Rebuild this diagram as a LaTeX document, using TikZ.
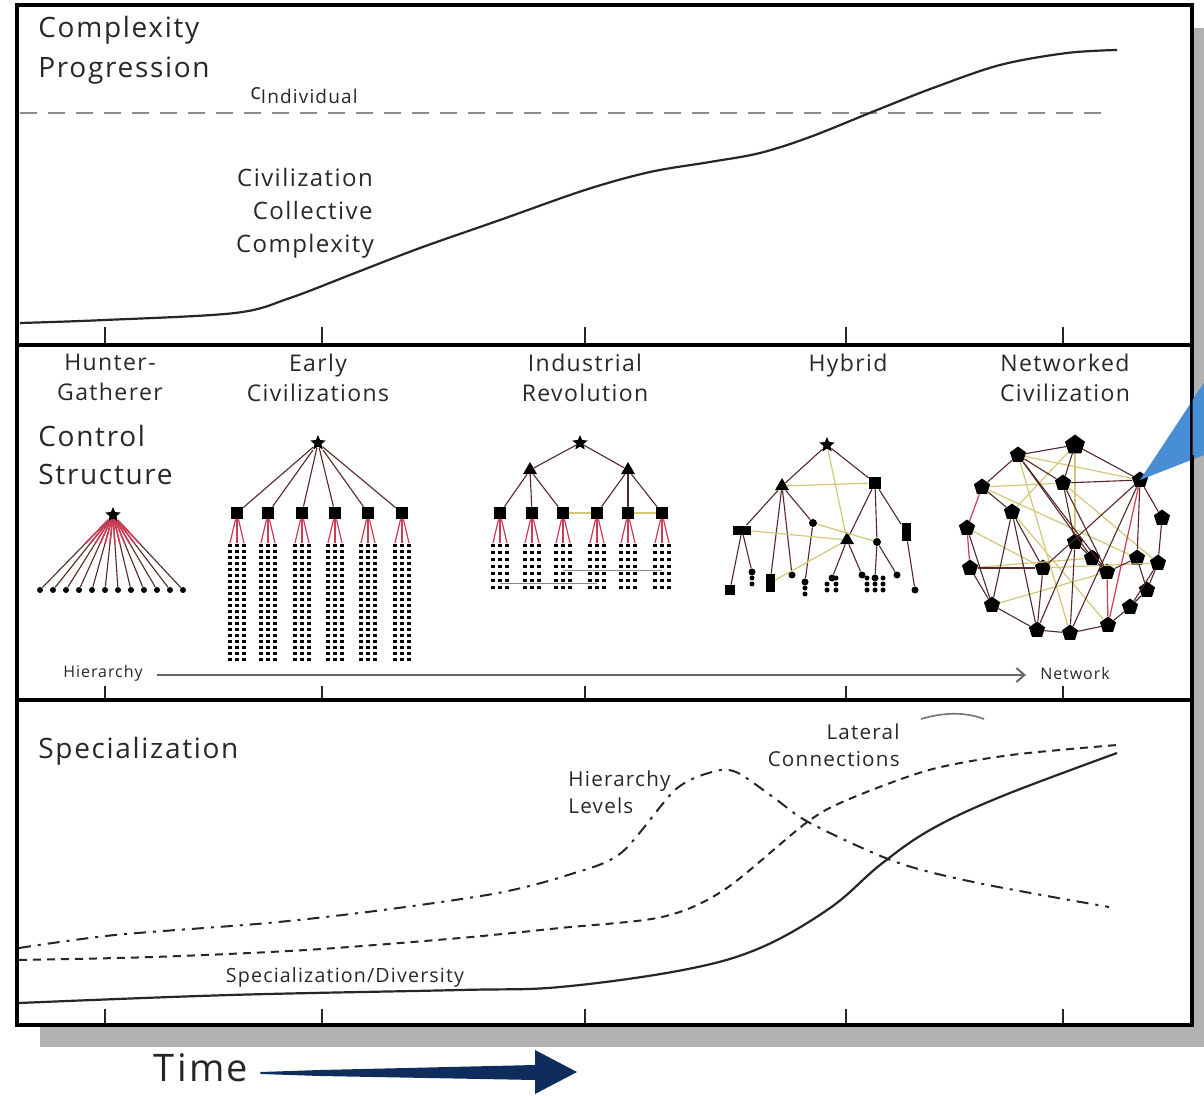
\documentclass[tikz,border=0pt]{standalone}
\usepackage{fontspec}
\setmainfont{Open Sans}[LetterSpace=6]
\usetikzlibrary{shapes.geometric,arrows.meta,calc}
\definecolor{inkgray}{RGB}{40,40,40}
\definecolor{linkdark}{RGB}{85,40,40}
\definecolor{linkred}{RGB}{205,60,85}
\definecolor{linkyel}{RGB}{212,200,120}
\definecolor{calloutblue}{RGB}{72,142,212}
\definecolor{timenavy}{RGB}{14,44,92}
\tikzset{
  panel/.style={draw=black, line width=2pt},
  tickmark/.style={line width=1.1pt, draw=black!85},
  ttl/.style={font=\fontsize{14}{20}\selectfont, text=inkgray, inner sep=0pt, align=left},
  lbl/.style={font=\fontsize{11.5}{15}\selectfont, text=inkgray, inner sep=0pt, align=center},
  small/.style={font=\fontsize{10.3}{13.5}\selectfont, text=inkgray, inner sep=0pt},
  tiny/.style={font=\fontsize{8}{8.5}\selectfont, text=inkgray, inner sep=1pt},
  curve/.style={line width=1.1pt, draw=black!85},
  boss/.style={star, star points=5, star point ratio=2.2, fill=black, inner sep=0pt, minimum size=8pt},
  mid/.style={regular polygon, regular polygon sides=3, fill=black, inner sep=0pt, minimum size=8pt},
  box/.style={rectangle, fill=black, inner sep=0pt, minimum size=6pt},
  leaf/.style={circle, fill=black, inner sep=0pt, minimum size=2.6pt},
  blob/.style={regular polygon, regular polygon sides=5, fill=black, inner sep=0pt, minimum size=8.5pt},
  dk/.style={draw=linkdark, line width=0.55pt},
  rd/.style={draw=linkred, line width=0.6pt},
  yl/.style={draw=linkyel, line width=0.6pt},
}

\begin{document}
\begin{tikzpicture}[x=0.5pt, y=-0.5pt]
  \useasboundingbox (0,0) rectangle (1204,1096);
  % frame with shadow
  \fill[black!30] (40,28) rectangle (1204,1047);
  \fill[white] (17,5) rectangle (1192,1025);
  \foreach \x in {105,322,585,846,1063} {
    \draw[tickmark] (\x,345) -- ++(0,-18);
    \draw[tickmark] (\x,700) -- ++(0,-14);
    \draw[tickmark] (\x,1025) -- ++(0,-16);
  }

  % top panel
  \node[ttl, anchor=north west] (cprog) at (38,16) {Complexity\\Progression};
  \node[anchor=west, inner sep=0pt, text=inkgray] (cind) at (250,96)
    {\fontsize{11}{12}\selectfont c\raisebox{-2pt}{\fontsize{9.5}{10}\selectfont Individual}};
  \draw[black!45, line width=1.3pt, dash pattern=on 8.5pt off 5.5pt] (20,113) -- (1105,113);
  \node[lbl, font=\fontsize{12}{16.5}\selectfont] (civ) at (305,213) {Civilization\\\ \ Collective\\Complexity};
  \draw[curve] plot[smooth, tension=0.55] coordinates {(20,323) (105,320) (235,313)
    (290,298) (355,273) (420,248) (500,220) (585,190) (650,172) (710,162) (760,153) (810,137)
    (877,110) (933,88) (1000,65) (1067,53) (1117,50)};

  % middle panel: labels
  \node[lbl, anchor=north] (hgl) at (110,354) {Hunter-\\Gatherer};
  \node[lbl, anchor=north] (ecl) at (318,354) {Early\\Civilizations};
  \node[lbl, anchor=north] (irl) at (585,354) {Industrial\\Revolution};
  \node[lbl, anchor=north] (hyl) at (848,354) {Hybrid};
  \node[lbl, anchor=north] (nwl) at (1065,354) {Networked\\Civilization};
  \node[ttl, font=\fontsize{14}{19}\selectfont, anchor=north west] (ctrl) at (38,425) {Control\\Structure};

  % hunter-gatherer
  \node[boss] (hg) at (113,515) {};
  \foreach \i in {1,...,12} {
    \node[leaf, minimum size=3pt] (hg\i) at ({27+13*\i},590) {};
    \draw[dk] (hg) -- (hg\i);
    \draw[rd, line width=0.8pt] (hg) -- ($(hg)!0.38!(hg\i)$);
  }

  % early civilizations
  \node[boss] (ec) at (318,443) {};
  \foreach \c [count=\i] in {237,268,302,335,368,402} {
    \node[box] (ec\i) at (\c,513) {};
    \draw[dk] (ec) -- (ec\i);
    \foreach \d [count=\k] in {-7,0,7} {
      \coordinate (ec\i t\k) at (\c+\d,543);
      \draw[rd] (ec\i) -- (ec\i t\k);
      \foreach \r in {0,...,19}
        \fill (\c+\d-2.3,545+6*\r-1.5) rectangle ++(4.6,3);
    }
  }

  % industrial revolution
  \node[boss] (ir) at (580,443) {};
  \node[mid] (irL) at (530,470) {};
  \node[mid] (irR) at (628,470) {};
  \draw[dk] (ir) -- (irL);
  \draw[dk] (ir) -- (irR);
  \foreach \c [count=\i] in {500,532,563,597,628,662} {
    \node[box] (ir\i) at (\c,513) {};
    \foreach \d [count=\k] in {-7,0,7} {
      \coordinate (ir\i t\k) at (\c+\d,543);
      \draw[rd] (ir\i) -- (ir\i t\k);
      \foreach \r in {0,...,6}
        \fill (\c+\d-2.3,545+7*\r-1.5) rectangle ++(4.6,3);
    }
  }
  \foreach \i in {1,2,3} \draw[dk] (irL) -- (ir\i);
  \foreach \i in {4,5,6} \draw[dk] (irR) -- (ir\i);
  \draw[yl] (ir3) -- (ir4);
  \draw[yl] (ir5) -- (ir6);
  \draw[black!45, line width=0.5pt] (563,570) -- (662,570) (500,583) -- (597,583);

  % hybrid
  \node[boss] (hy) at (827,445) {};
  \node[mid] (hyA) at (782,486) {};
  \node[box] (hyB) at (875,483) {};
  \node[box, minimum width=9pt, minimum height=4.5pt] (hyC) at (742,530) {};
  \node[leaf, minimum size=4pt] (hyD) at (813,523) {};
  \node[mid] (hyE) at (847,540) {};
  \node[leaf, minimum size=4pt] (hyF) at (877,542) {};
  \node[box, minimum width=4.5pt, minimum height=9pt] (hyG) at (906,532) {};
  \node[box, minimum size=5pt] (hyC1) at (730,590) {};
  \node[leaf, minimum size=3.5pt] (hyC2) at (752,572) {};
  \node[box, minimum width=4.5pt, minimum height=9pt] (hyA1) at (770,583) {};
  \node[leaf, minimum size=3.5pt] (hyA2) at (792,575) {};
  \node[leaf, minimum size=3.5pt] (hyD1) at (805,582) {};
  \node[leaf, minimum size=3.5pt] (hyE1) at (832,578) {};
  \node[leaf, minimum size=3.5pt] (hyE2) at (862,575) {};
  \node[leaf, minimum size=3.5pt] (hyF1) at (875,578) {};
  \node[leaf, minimum size=3.5pt] (hyF2) at (897,575) {};
  \node[leaf, minimum size=3.5pt] (hyG1) at (915,590) {};
  \foreach \k in {1,2} {
    \fill (752,572+6*\k) circle (2.5);
    \fill (805,582+6*\k) circle (2.5);
    \foreach \d in {0,9} \fill (827+\d,578+6*\k) circle (2.5);
    \foreach \d in {-8,0,8} \fill (875+\d,578+6*\k) circle (2.5);
  }
  \foreach \d in {-8,8} \fill (875+\d,578) circle (2.5);
  \fill (836,578) circle (2.5);
  \foreach \a/\b in {hy/hyA, hy/hyB, hyA/hyC, hyA/hyA1, hyA/hyA2, hyA/hyD, hyB/hyE, hyB/hyF,
      hyB/hyG, hyC/hyC1, hyC/hyC2, hyD/hyD1, hyE/hyE1, hyE/hyE2, hyF/hyF1, hyF/hyF2, hyG/hyG1}
    \draw[dk] (\a) -- (\b);
  \foreach \a/\b in {hyA/hyB, hy/hyE, hyC/hyE, hyD/hyF, hyA1/hyE}
    \draw[yl] (\a) -- (\b);

  % networked civilization
  \foreach \x/\y [count=\i] in {1018/455, 1075/445, 1140/480, 982/487, 1063/483, 1012/512,
      1162/518, 967/528, 1075/542, 1092/558, 1137/558, 1158/563, 970/568, 1043/568,
      1107/572, 1147/590, 992/605, 1130/607, 1037/630, 1070/633, 1108/625}
    \node[blob] (n\i) at (\x,\y) {};
  \foreach \a/\b in {4/5, 1/3, 2/9, 2/6, 8/14, 13/10, 17/15, 4/11, 6/21, 5/12, 1/20, 14/12}
    \draw[yl] (n\a) -- (n\b);
  \foreach \a/\b in {1/2, 2/3, 1/4, 13/17, 17/19, 19/20, 20/21, 21/18, 18/16, 16/12, 12/7,
      7/3, 1/5, 1/10, 1/15, 2/5, 3/5, 3/11, 3/14, 3/20, 5/9, 5/15, 4/6, 6/17, 6/19,
      6/14, 13/14, 14/19, 9/20, 9/19, 10/15, 11/15, 12/18, 8/17, 11/16, 9/10}
    \draw[dk] (n\a) -- (n\b);
  \foreach \a/\b in {4/8, 8/13, 15/21, 3/21}
    \draw[rd] (n\a) -- (n\b);
  \node[blob, minimum size=10.5pt] at (n2) {};
  \fill[calloutblue] (n3.center) -- (1204,383) -- (1204,455) -- cycle;

  % hierarchy to network axis
  \node[tiny] (hier) at (103,673) {Hierarchy};
  \node[tiny] (netw) at (1075,673) {Network};
  \draw[black!60, line width=1pt, -{Straight Barb[length=4pt, width=7pt]}]
    ($(hier.east)+(12,2)$) -- ($(netw.west)+(-12,2)$);

  % bottom panel
  \node[ttl, anchor=west] (spec) at (38,751) {Specialization};
  \node[small, anchor=north west, align=left] (hlev) at (568,770) {Hierarchy\\Levels};
  \node[small, anchor=north east, align=right] (latc) at (900,723) {Lateral\\Connections};
  \node[small, font=\fontsize{9.8}{10}\selectfont] (sdiv) at (345,977) {Specialization/Diversity};
  \draw[black!55, line width=0.8pt] (921,719) .. controls (945,712) and (965,712) .. (984,719);
  \draw[curve] plot[smooth, tension=0.6] coordinates {(19,1003) (230,995) (460,990) (560,987)
    (683,970) (760,948) (830,908) (880,865) (930,830) (1000,797) (1117,753)};
  \draw[curve, line width=1pt, dash pattern=on 6pt off 3.5pt on 1.5pt off 3.5pt]
    plot[smooth, tension=0.5] coordinates {(19,948) (115,935) (268,923) (383,910) (498,893)
    (568,875) (621,853) (675,790) (712,772) (736,772) (773,797) (810,823) (896,862)
    (978,883) (1109,907)};
  \draw[curve, line width=1pt, dash pattern=on 4pt off 3pt]
    plot[smooth, tension=0.5] coordinates {(19,960) (153,957) (306,950) (460,938) (560,928)
    (662,917) (724,890) (806,823) (847,800) (929,770) (1011,755) (1117,745)};

  % panel borders
  \draw[panel] (17,5) rectangle (1192,1025);
  \draw[panel] (17,345) -- (1192,345);
  \draw[panel] (17,700) -- (1192,700);
  \fill[calloutblue] (1192.5,400) -- (1204,383) -- (1204,455) -- (1192.5,455) -- cycle;

  % time arrow
  \node[text=black!85, font=\fontsize{19}{24}\selectfont, inner sep=0pt] (time) at (201,1068) {Time};
  \coordinate (timeend) at (577,1072);
  \fill[timenavy] ($(time.east)+(12,4)$) -- (320,1070) -- (535,1065) -- (535,1050) -- (timeend)
    -- (535,1094) -- (535,1080) -- (320,1076) -- ($(time.east)+(12,6)$) -- cycle;
\end{tikzpicture}
\end{document}
